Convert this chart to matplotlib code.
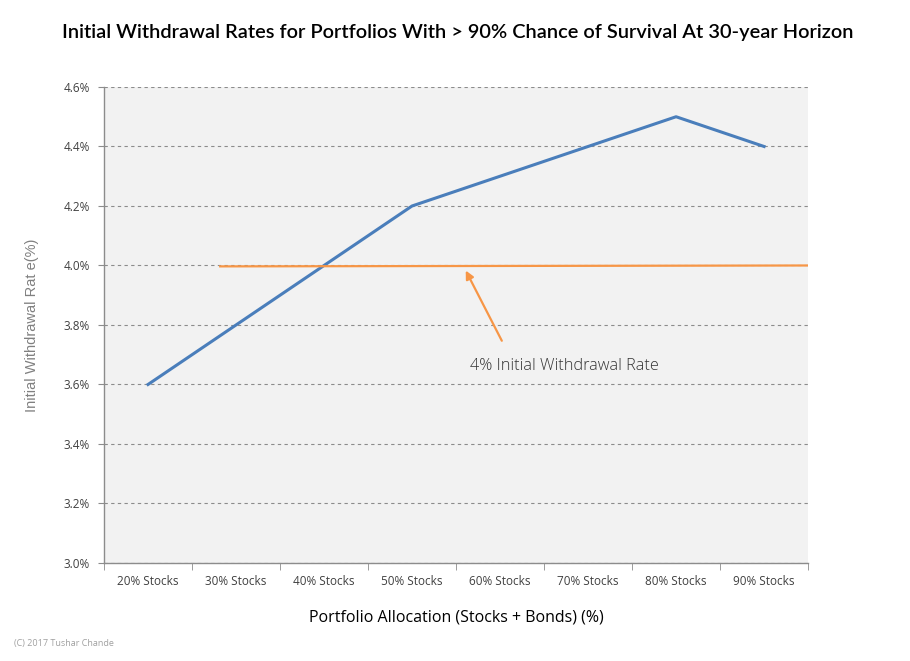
import matplotlib
matplotlib.use("Agg")
import matplotlib.pyplot as plt
from matplotlib.ticker import FuncFormatter

# data
categories = ["20% Stocks", "30% Stocks", "40% Stocks", "50% Stocks",
              "60% Stocks", "70% Stocks", "80% Stocks", "90% Stocks"]
withdrawal_rate = [3.6, 3.8, 4.0, 4.2, 4.3, 4.4, 4.5, 4.4]
ref_x = [0.82, 7.5]
ref_rate = [3.997, 4.0]
y_ticks = [3.0, 3.2, 3.4, 3.6, 3.8, 4.0, 4.2, 4.4, 4.6]

BLUE = "#4a7ebb"
ORANGE = "#f79646"
GRIDC = "#8c8c8c"
TXT = "#404040"

def main():
    fig = plt.figure(figsize=(9.1, 6.61), dpi=100)
    ax = fig.add_axes([0.1143, 0.1483, 0.7737, 0.7201])
    ax.set_facecolor("#f2f2f2")

    x = list(range(len(categories)))
    ax.plot(x, withdrawal_rate, color=BLUE, linewidth=2.2, zorder=3)
    ax.plot(ref_x, ref_rate, color=ORANGE, linewidth=1.6, zorder=3)

    ax.set_xlim(-0.5, len(categories) - 0.5)
    ax.set_ylim(y_ticks[0], y_ticks[-1])
    ax.set_yticks(y_ticks)
    ax.yaxis.set_major_formatter(FuncFormatter(lambda v, p: f"{v:.1f}%"))
    ax.set_xticks(x)
    ax.set_xticklabels(categories)
    ax.set_xticks([i - 0.5 for i in range(len(categories) + 1)], minor=True)

    ax.grid(axis="y", color=GRIDC, linestyle=(0, (3, 3)), linewidth=0.8)
    ax.set_axisbelow(True)
    for s in ["top", "right"]:
        ax.spines[s].set_visible(False)
    for s in ["left", "bottom"]:
        ax.spines[s].set_color(GRIDC)
        ax.spines[s].set_linewidth(1.0)

    ax.tick_params(axis="x", which="major", length=0, pad=9,
                   labelsize=8.5, labelcolor=TXT)
    ax.tick_params(axis="x", which="minor", length=5, color=GRIDC)
    ax.tick_params(axis="y", length=4, color=GRIDC, pad=6,
                   labelsize=8.5, labelcolor=TXT)
    for lab in ax.get_xticklabels() + ax.get_yticklabels():
        lab.set_family("Open Sans")

    ax.set_xlabel("Portfolio Allocation (Stocks + Bonds) (%)", family="Open Sans",
                  fontsize=11.5, color="black", labelpad=15)
    ax.set_ylabel("Initial Withdrawal Rat e(%)", family="Liberation Sans",
                  fontsize=10.5, color="#808080", labelpad=18)

    # arrow pointing at the 4% line
    ax.annotate("", xy=(3.61, 3.983), xytext=(4.02, 3.747),
                arrowprops=dict(arrowstyle="-|>", color=ORANGE, lw=1.6,
                                mutation_scale=12, shrinkA=0, shrinkB=0))
    ax.text(3.66, 3.662, "4% Initial Withdrawal Rate", family="Open Sans",
            fontweight="light", fontsize=11.7, color="#333333", va="center", ha="left")

    fig.text(0.503, 0.951, "Initial Withdrawal Rates for Portfolios With > 90% Chance of Survival At 30-year Horizon",
             family="Lato", fontweight="semibold", fontsize=14.4, ha="center", va="center")
    fig.text(0.015, 0.026, "(C) 2017 Tushar Chande", family="Open Sans",
             fontsize=6.5, color="#a0a0a0", ha="left", va="center")

    fig.savefig("out.png", dpi=100)

if __name__ == "__main__":
    main()
